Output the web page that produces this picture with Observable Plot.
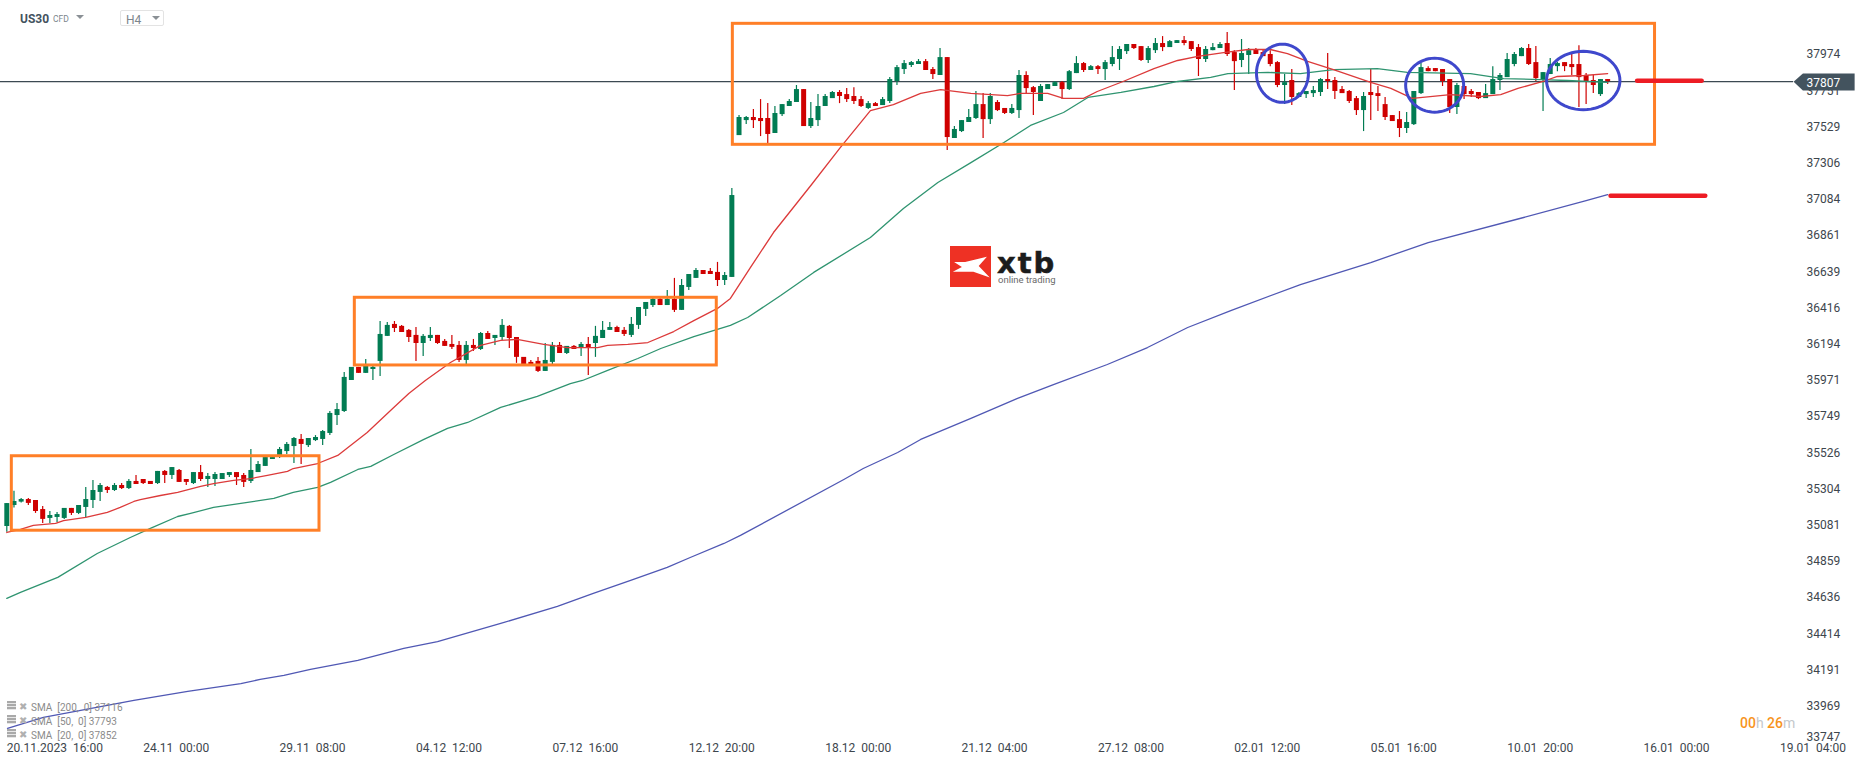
<!DOCTYPE html>
<html><head><meta charset="utf-8">
<script src="https://cdn.jsdelivr.net/npm/d3@7"></script>
<script src="https://cdn.jsdelivr.net/npm/@observablehq/plot@0.6"></script>
<style>
html,body{margin:0;padding:0;background:#fff;overflow:hidden}
#wrap{position:relative;width:1866px;height:767px;font-family:Roboto,sans-serif}
#wrap svg{display:block}
.o{position:absolute;white-space:pre;line-height:1}
.tri{position:absolute;width:0;height:0;border-left:4px solid transparent;border-right:4px solid transparent;border-top:4px solid #8a9095}
.leg{color:#8b8b8b;font-size:10px}
.ico{position:absolute;width:9px;height:9px;background:repeating-linear-gradient(#a9a9a9 0 2px,#e6e6e6 2px 3px)}
</style></head><body>
<div id="wrap">
<div id="chart"></div>
<div class="o" style="left:20px;top:13px;font-size:12px;font-weight:700;color:#43525e">US30</div>
<div class="o" style="left:53px;top:15px;font-size:8.5px;color:#7c858c">CFD</div>
<div class="tri" style="left:76px;top:15px"></div>
<div class="o" style="left:120px;top:10px;width:42px;height:14px;border:1px solid #e3e3e3;border-radius:2px"></div>
<div class="o" style="left:126px;top:14px;font-size:12px;color:#7c858c">H4</div>
<div class="tri" style="left:152px;top:16px"></div>

<div class="ico" style="left:7px;top:701px"></div><div class="o leg" style="left:19px;top:702px;color:#b0b0b0">✖</div>
<div class="o leg" style="left:31px;top:703px">SMA  [200,  0] 37116</div>
<div class="ico" style="left:7px;top:715px"></div><div class="o leg" style="left:19px;top:716px;color:#b0b0b0">✖</div>
<div class="o leg" style="left:31px;top:717px">SMA  [50,  0] 37793</div>
<div class="ico" style="left:7px;top:729px"></div><div class="o leg" style="left:19px;top:730px;color:#b0b0b0">✖</div>
<div class="o leg" style="left:31px;top:731px">SMA  [20,  0] 37852</div>

<div class="o" style="left:1740px;top:716px;font-size:14px;font-weight:500;color:#f7941d">00<span style="color:#c4c8cb;font-weight:400">h</span> 26<span style="color:#c4c8cb;font-weight:400">m</span></div>

<div class="o" style="left:950px;top:246px;width:41px;height:41px;background:#ee3124"></div>
<div class="o" style="left:950px;top:246px;width:41px;height:41px;background:#fff;clip-path:polygon(90% 26%,37% 39%,10% 39%,29% 51%,7% 63%,57% 63%,97% 77%,70% 49%)"></div>
<div class="o" style="left:997px;top:248.5px;font-family:'DejaVu Sans',sans-serif;font-weight:700;font-size:29px;letter-spacing:2px;-webkit-text-stroke:0.5px #1c1c1c;color:#1c1c1c">xtb</div>
<div class="o" style="left:998px;top:275px;font-size:9.5px;color:#6a6a6a">online trading</div>
</div>
<script>
// Candles, one value per H4 bar, left to right
const opens = [
35052,35182,35203,35219,35213,35157,35102,35108,35102,35164,
35133,35170,35213,35263,35294,35275,35306,35287,35331,35343,
35331,35318,35393,35368,35399,35343,35318,35386,35343,35343,
35343,35368,35386,35368,35331,35386,35424,35467,35492,35516,
35547,35591,35553,35584,35591,35628,35739,35764,35956,36037,
36000,36024,36074,36229,36303,36291,36266,36235,36185,36216,
36235,36198,36179,36173,36080,36173,36148,36247,36216,36222,
36291,36222,36099,36068,36074,36012,36068,36173,36123,36167,
36154,36179,36185,36216,36266,36284,36266,36235,36297,36396,
36420,36458,36420,36458,36390,36532,36588,36637,36631,36625,
36575,36594,37472,37565,37584,37578,37578,37485,37602,37652,
37677,37757,37528,37565,37652,37701,37739,37726,37714,37695,
37640,37670,37658,37683,37807,37881,37906,37912,37930,37881,
37844,37955,37454,37497,37553,37578,37664,37571,37677,37640,
37609,37627,37844,37769,37683,37757,37776,37800,37757,37856,
37918,37875,37899,37881,37912,37943,37992,38036,38023,37937,
37998,38042,38017,38042,38060,38054,38017,37943,37998,38011,
38042,37986,37937,37968,38005,37986,37974,37924,37782,37813,
37708,37726,37732,37739,37819,37813,37757,37745,37701,37627,
37739,37732,37664,37596,37571,37516,37540,37732,37887,37887,
37881,37819,37646,37776,37745,37739,37701,37726,37813,37831,
37912,37961,38011,37924,37813,37850,37899,37924,37912,37912,
37844,37813,37726,37819];
const highs = [
35194,35271,35225,35225,35213,35176,35145,35139,35164,35164,
35182,35294,35337,35318,35300,35318,35318,35343,35368,35343,
35331,35393,35399,35417,35405,35343,35386,35430,35380,35386,
35380,35386,35386,35380,35529,35454,35485,35485,35541,35572,
35603,35622,35597,35615,35646,35764,35813,36006,36037,36037,
36086,36049,36321,36315,36321,36297,36272,36284,36241,36284,
36235,36210,36235,36198,36198,36210,36253,36260,36235,36334,
36297,36222,36099,36080,36099,36185,36191,36191,36167,36173,
36191,36222,36291,36321,36315,36291,36284,36346,36408,36439,
36470,36470,36513,36588,36581,36612,36649,36637,36649,36687,
36625,37145,37596,37590,37633,37695,37670,37652,37664,37695,
37782,37757,37677,37726,37726,37745,37751,37763,37769,37714,
37683,37677,37708,37831,37906,37937,37930,37943,37943,37893,
38011,37955,37528,37565,37633,37745,37732,37732,37689,37640,
37664,37875,37868,37776,37788,37788,37807,37807,37875,37961,
37924,37906,37906,37937,38023,38023,38036,38036,38023,38023,
38073,38085,38060,38060,38085,38054,38036,38023,38042,38048,
38110,37998,38067,38011,38011,38005,37998,37930,37850,37881,
37739,37745,37776,37825,37980,37831,37776,37751,37714,37739,
37881,37776,37708,37596,37621,37615,37745,37918,37899,37887,
37881,37819,37794,37776,37757,37739,37788,37899,37856,37980,
37986,38017,38036,38023,37862,37949,37924,37924,37980,38029,
37856,37844,37819,37819];
const lows = [
35017,35166,35197,35182,35133,35071,35071,35077,35096,35120,
35126,35108,35164,35207,35256,35269,35281,35281,35312,35312,
35312,35312,35318,35343,35325,35306,35312,35331,35294,35300,
35343,35355,35306,35294,35318,35386,35424,35467,35473,35498,
35442,35436,35541,35578,35553,35615,35677,35758,35956,36000,
36000,35956,35981,36229,36253,36253,36191,36074,36105,36198,
36179,36167,36148,36068,36055,36136,36142,36210,36173,36204,
36154,36062,36049,36049,36006,36012,36055,36123,36117,36148,
36105,35987,36099,36216,36266,36253,36229,36222,36272,36352,
36408,36420,36420,36377,36390,36513,36588,36612,36612,36538,
36544,36594,37472,37540,37516,37466,37423,37485,37590,37652,
37677,37528,37516,37528,37652,37701,37670,37677,37664,37646,
37633,37652,37658,37670,37782,37850,37893,37912,37875,37819,
37844,37380,37454,37491,37553,37571,37454,37540,37621,37602,
37602,37578,37726,37596,37683,37757,37776,37695,37751,37856,
37862,37875,37850,37813,37899,37875,37974,38005,37930,37918,
37980,37992,38017,38042,38029,37992,37838,37924,37998,38011,
37961,37751,37893,37850,37974,37961,37899,37769,37664,37658,
37708,37701,37708,37714,37757,37695,37732,37670,37596,37497,
37565,37621,37565,37559,37460,37485,37534,37726,37868,37868,
37776,37609,37602,37695,37708,37695,37701,37726,37751,37831,
37899,37961,37906,37807,37621,37850,37868,37868,37844,37646,
37664,37732,37714,37788];
const closes = [
35194,35207,35219,35195,35145,35096,35120,35126,35164,35133,
35182,35219,35275,35306,35275,35306,35287,35331,35312,35318,
35312,35393,35368,35417,35325,35325,35386,35343,35362,35374,
35380,35386,35355,35325,35399,35436,35479,35479,35529,35560,
35597,35560,35597,35603,35640,35752,35776,35975,36037,36000,
36049,36037,36241,36297,36278,36253,36222,36185,36229,36235,
36185,36167,36161,36080,36173,36154,36247,36210,36235,36297,
36216,36099,36049,36049,36012,36080,36173,36123,36167,36148,
36179,36154,36229,36266,36284,36253,36241,36303,36408,36439,
36458,36420,36458,36390,36544,36612,36637,36612,36612,36575,
36606,37101,37584,37584,37565,37559,37479,37609,37664,37683,
37757,37528,37578,37652,37714,37739,37714,37695,37683,37652,
37670,37652,37695,37819,37893,37918,37924,37930,37875,37850,
37955,37460,37510,37565,37584,37664,37571,37714,37627,37609,
37640,37844,37763,37739,37776,37788,37800,37757,37868,37918,
37875,37899,37881,37924,37955,38005,38036,38011,37937,38011,
38042,38017,38054,38060,38042,38005,37943,38005,38017,38036,
37974,37930,37980,37998,37974,37961,37912,37782,37800,37708,
37732,37745,37751,37819,37807,37745,37732,37683,37627,37714,
37720,37714,37584,37559,37516,37553,37745,37893,37868,37868,
37807,37646,37782,37726,37726,37701,37732,37819,37844,37943,
37974,38011,37912,37825,37862,37912,37918,37899,37893,37831,
37807,37782,37819,37807];

// Moving averages: bar number and level at each bend
const sma20Bar = [1,2.9,4.7,7.8,8.9,12,15,16.8,18.7,19.6,22.4,24.8,28,29.8,32.6,35,37.3,40.1,40.9,44.3,47.1,51.2,54.9,57,59.3,62.8,67,69.8,72.1,75.8,79.1,83.3,84.7,87.5,90.3,93.9,96.7,100,101.8,104.6,107.8,113,117.1,121.3,124.5,128.3,131.1,135.3,140.4,142.2,146,148.2,151,152.9,156.5,160.8,164.1,166.9,170.5,173.9,177,179.4,182.2,185.8,191,193.8,196.8,202.1,206.3,209.1,211.5,215,217,220.7,224];
const sma20Val = [35015,35034,35059,35071,35089,35108,35139,35170,35207,35219,35244,35263,35300,35318,35337,35349,35368,35393,35411,35442,35492,35634,35789,35876,35956,36067,36173,36204,36210,36179,36160,36160,36173,36179,36191,36259,36327,36402,36464,36656,36872,37163,37398,37627,37664,37733,37757,37733,37720,37733,37733,37702,37702,37745,37807,37887,37937,37962,37986,38005,38005,37980,37931,37881,37801,37764,37702,37726,37714,37726,37764,37807,37838,37844,37856];
const sma50Bar = [1,2.9,8.1,13.6,18.2,21,24.8,26.6,29.8,33.6,38.2,40.9,44.3,46.1,49.9,51.7,54.9,59.1,62.4,65.2,69.8,74.9,79.5,81.2,84.7,88.9,92.1,96.7,101.8,104.2,108.8,113.4,121.3,125.9,130.7,135.3,139.9,143.6,148.2,151.6,156.2,160.8,164.1,168.7,171.1,176.7,181.2,185.8,191.9,196.1,204.9,209.5,214.7,218.4,224];
const sma50Val = [34607,34644,34737,34885,34984,35040,35114,35133,35170,35195,35226,35263,35294,35325,35405,35424,35498,35591,35659,35696,35789,35857,35937,35956,36018,36092,36154,36228,36297,36346,36482,36625,36841,37021,37182,37305,37429,37535,37615,37708,37739,37776,37807,37832,37856,37863,37856,37881,37887,37863,37856,37825,37819,37813,37801];
const sma200Bar = [1.1,6.1,18.7,26.2,33.6,36.3,39.6,43.3,49.9,56.3,61,69.8,77.7,82.7,87.9,93,96.2,100.9,103.2,117.6,120.3,125.1,128.3,135.3,141.8,146.8,154.3,159.9,165.5,171.5,181.2,191,199,212.3,221,224];
const sma200Val = [33802,33870,33975,34031,34080,34105,34130,34167,34223,34297,34340,34452,34557,34638,34718,34799,34860,34947,34997,35343,35411,35510,35591,35721,35845,35931,36055,36160,36284,36389,36550,36686,36810,36965,37070,37107];

// Axis ticks
const yTicks = [37974,37751,37529,37306,37084,36861,36639,36416,36194,35971,35749,35526,35304,35081,34859,34636,34414,34191,33969];
const yLastTick = 33747;
const xTicks = [1,20,39,58,77,96,115,134,153,172,191,210,229,248];
const xLabels = ["20.11.2023\u00a0\u00a016:00","24.11\u00a0\u00a000:00","29.11\u00a0\u00a008:00","04.12\u00a0\u00a012:00","07.12\u00a0\u00a016:00","12.12\u00a0\u00a020:00","18.12\u00a0\u00a000:00","21.12\u00a0\u00a004:00","27.12\u00a0\u00a008:00","02.01\u00a0\u00a012:00","05.01\u00a0\u00a016:00","10.01\u00a0\u00a020:00","16.01\u00a0\u00a000:00","19.01\u00a0\u00a004:00"];
const lastPrice = 37807;

// Hand-drawn annotations on the chart
const boxStart = [1.7,49.48,102.14];
const boxEnd = [44.56,99.9,230.6];
const boxTop = [35487,36468,38164];
const boxBottom = [35026,36049,37415];
const ringBar = [178.7,199.9,220.6];
const ringPrice = [37858,37784,37813];
const ringBarRadius = [3.62,4.04,5.11];
const ringPriceRadius = [180,167,181];
const levelStart = [228.1,224.4];
const levelEnd = [237.1,237.6];
const levelPrice = [37811,37099];

// Readings were taken at 6.19 points a pixel; the axis labels step at 6.146
const cal = p => 37974 - (37974 - p) * 6.146 / 6.19;

const candles = opens.map((o,k)=>({bar:k+1,o:cal(o),h:cal(highs[k]),l:cal(lows[k]),c:cal(closes[k])}));
const up = candles.filter(d=>d.c>=d.o), down = candles.filter(d=>d.c<d.o);
const series = (bars,vals)=>bars.map((b,k)=>({bar:b,v:cal(vals[k])}));
const boxes = boxStart.map((s,k)=>({x1:s,x2:boxEnd[k],y1:cal(boxBottom[k]),y2:cal(boxTop[k])}));
const rings = ringBar.flatMap((b,k)=>d3.range(0,361,6).map(a=>({id:k,
  x:b+ringBarRadius[k]*Math.cos(a*Math.PI/180),
  y:cal(ringPrice[k]+ringPriceRadius[k]*Math.sin(a*Math.PI/180))})));
const levels = levelStart.flatMap((s,k)=>[{id:k,x:s,y:cal(levelPrice[k])},{id:k,x:levelEnd[k],y:cal(levelPrice[k])}]);
const tag = [[249.9,37807],[251.2,37857],[258.4,37857],[258.4,37753],[251.2,37753]].map(([x,y])=>({x,y}));

const GREEN="#027c53", RED="#cf0000";
const chart = Plot.plot({
  width:1866, height:767, marginLeft:0, marginRight:60, marginTop:0, marginBottom:24,
  x:{domain:[0.122,251.7],range:[0,1806]},
  y:{domain:[33739,38306],range:[743,0]},
  style:{fontFamily:"Roboto, sans-serif",background:"transparent",overflow:"visible"},
  marks:[
    Plot.axisY(yTicks,{anchor:"right",tickSize:0,tickPadding:0,tickFormat:d=>String(d),label:null,fontSize:12,fill:"#3d464d"}),
    Plot.axisY([yLastTick],{anchor:"right",tickSize:0,tickPadding:0,dy:-5,tickFormat:d=>String(d),label:null,fontSize:12,fill:"#3d464d"}),
    Plot.axisX(xTicks,{anchor:"bottom",tickSize:0,tickPadding:0,tickFormat:d=>xLabels[xTicks.indexOf(d)],textAnchor:"start",label:null,fontSize:12,fill:"#3d464d"}),
    Plot.ruleY([lastPrice],{x1:0.122,x2:249.9,stroke:"#3c4952",strokeWidth:1.3}),
    Plot.ruleX(up,{x:"bar",y1:"l",y2:"h",stroke:GREEN,strokeWidth:1.2}),
    Plot.ruleX(up,{x:"bar",y1:"o",y2:"c",stroke:GREEN,strokeWidth:5}),
    Plot.ruleX(down,{x:"bar",y1:"l",y2:"h",stroke:RED,strokeWidth:1.2}),
    Plot.ruleX(down,{x:"bar",y1:"o",y2:"c",stroke:RED,strokeWidth:5}),
    Plot.line(series(sma200Bar,sma200Val),{x:"bar",y:"v",stroke:"#5058b4",strokeWidth:1.3}),
    Plot.line(series(sma50Bar,sma50Val),{x:"bar",y:"v",stroke:"#2f9470",strokeWidth:1.3}),
    Plot.line(series(sma20Bar,sma20Val),{x:"bar",y:"v",stroke:"#dc3a3a",strokeWidth:1.3}),
    Plot.rect(boxes,{x1:"x1",x2:"x2",y1:"y1",y2:"y2",fill:"none",stroke:"#ff7f27",strokeWidth:3}),
    Plot.line(rings,{x:"x",y:"y",z:"id",stroke:"#3f48cc",strokeWidth:3}),
    Plot.line(levels,{x:"x",y:"y",z:"id",stroke:"#ed1c24",strokeWidth:4.5,strokeLinecap:"round"}),
    Plot.line(tag.concat(tag[0]),{x:"x",y:"y",fill:"#43535e",stroke:"none"}),
    Plot.text([lastPrice],{x:251.7,y:d=>d,text:d=>String(d),textAnchor:"start",fill:"white",fontSize:12,dy:1})
  ]
});
document.getElementById("chart").appendChild(chart);
</script>
</body></html>
